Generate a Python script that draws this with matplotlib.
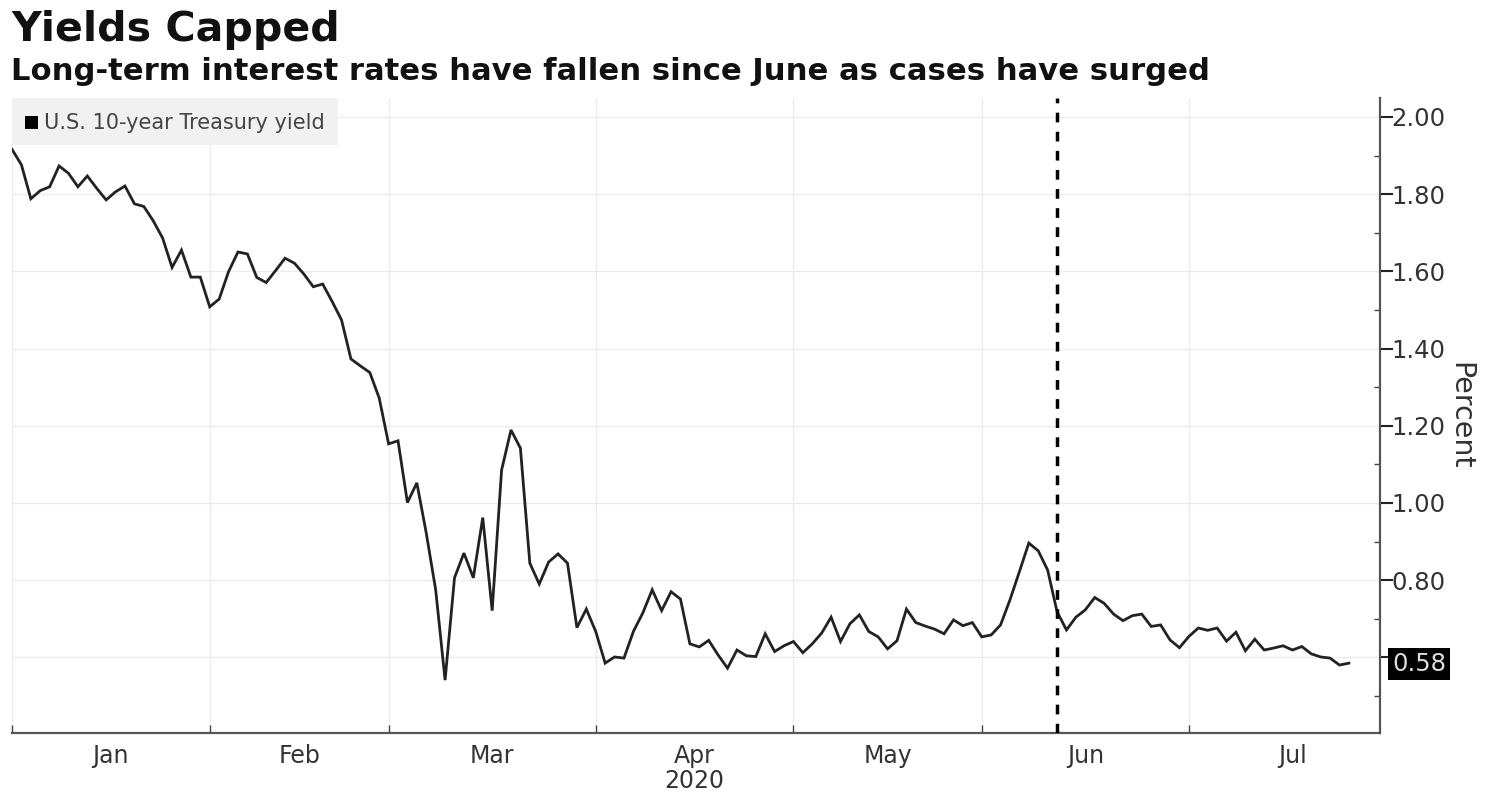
import matplotlib
matplotlib.use('Agg')
import matplotlib.pyplot as plt
from matplotlib.patches import Rectangle

# U.S. 10-year yield, one value per trading day
yields = [
    1.916, 1.876, 1.788, 1.809, 1.819, 1.873, 1.854, 1.819, 1.847, 1.815,
    1.785, 1.806, 1.821, 1.775, 1.768, 1.731, 1.686, 1.610, 1.655, 1.585,
    1.585, 1.508, 1.528, 1.599, 1.650, 1.645, 1.584, 1.571, 1.602, 1.634,
    1.621, 1.593, 1.560, 1.567, 1.522, 1.474, 1.373, 1.355, 1.338, 1.272,
    1.153, 1.161, 1.001, 1.052, 0.922, 0.775, 0.541, 0.806, 0.870, 0.806,
    0.962, 0.721, 1.085, 1.189, 1.142, 0.844, 0.790, 0.847, 0.868, 0.844,
    0.677, 0.725, 0.667, 0.585, 0.601, 0.598, 0.667, 0.715, 0.775, 0.721,
    0.770, 0.751, 0.635, 0.627, 0.644, 0.606, 0.572, 0.619, 0.604, 0.602,
    0.661, 0.615, 0.630, 0.641, 0.612, 0.635, 0.663, 0.704, 0.641, 0.687,
    0.710, 0.667, 0.653, 0.622, 0.643, 0.725, 0.690, 0.681, 0.673, 0.661,
    0.697, 0.682, 0.690, 0.653, 0.658, 0.684, 0.749, 0.822, 0.896, 0.876,
    0.826, 0.718, 0.671, 0.704, 0.723, 0.755, 0.740, 0.712, 0.695, 0.708,
    0.712, 0.680, 0.684, 0.645, 0.625, 0.654, 0.676, 0.670, 0.676, 0.642,
    0.665, 0.617, 0.647, 0.619, 0.624, 0.630, 0.619, 0.628, 0.609, 0.601,
    0.598, 0.580, 0.585,
]
month_names = ['Jan', 'Feb', 'Mar', 'Apr', 'May', 'Jun', 'Jul']
month_starts = [0, 21, 40, 62, 83, 103, 125]
month_ends = [21, 40, 62, 83, 103, 125, 147]
y_ticks = [0.60, 0.80, 1.00, 1.20, 1.40, 1.60, 1.80, 2.00]
y_minor = [0.50, 0.70, 0.90, 1.10, 1.30, 1.50, 1.70, 1.90]
june_marker = 111
last_value = 0.58

W, H = 1490, 802
plt.rcParams['font.family'] = 'DejaVu Sans'
fig = plt.figure(figsize=(W / 100, H / 100), dpi=100)
ax = fig.add_axes([12 / W, 1 - 733 / H, 1368 / W, 635 / H])

# Grid
ax.set_axisbelow(True)
ax.grid(True, axis='both', color='#ececec', lw=1.0)

# Line and dashed marker
days = list(range(len(yields)))
ax.plot(days, yields, color='#222222', lw=2.0, solid_joinstyle='miter', zorder=3)
ax.axvline(june_marker, color='black', lw=2.5, dashes=(2.8, 2.7), zorder=4)

ax.set_xlim(0, 145.3)
ax.set_ylim(0.404, 2.049)

# Axes
ax.yaxis.tick_right()
ax.yaxis.set_label_position('right')
ax.set_yticks(y_ticks)
# the last value tag sits on top of the 0.60 label, so it stays blank
ax.set_yticklabels(['' if v == 0.60 else '%.2f' % v for v in y_ticks])
ax.set_yticks(y_minor, minor=True)
ax.tick_params(axis='y', which='major', labelsize=17.5, length=9, width=1.5,
               direction='out', pad=-1, labelcolor='#333333', color='#222222')
ax.tick_params(axis='y', which='minor', length=4, width=1, direction='in', color='#444444')
ax.set_ylabel('Percent', fontsize=20.5, color='#333333', rotation=270, labelpad=21)

ax.set_xticks(month_starts)
ax.set_xticklabels([])
ax.set_xticks([(a + b) / 2 for a, b in zip(month_starts, month_ends)], minor=True)
ax.set_xticklabels(month_names, minor=True)
ax.tick_params(axis='x', which='major', length=6, width=1, direction='in', color='#444444')
ax.tick_params(axis='x', which='minor', length=0, labelsize=17, pad=8, labelcolor='#333333')

ax.spines['top'].set_visible(False)
ax.spines['left'].set_visible(False)
for side in ['bottom', 'right']:
    ax.spines[side].set_color('#555555')
    ax.spines[side].set_linewidth(1.6)


def fx(px):
    return px / W


def fy(py):
    return 1 - py / H


# Year under the month labels
fig.text(fx(694), fy(781), '2020', fontsize=17, color='#333333', ha='center', va='center')

# Titles
fig.text(fx(11), fy(30), 'Yields Capped', fontsize=29.6, fontweight='bold', color='#111111', va='center')
fig.text(fx(11), fy(71), 'Long-term interest rates have fallen since June as cases have surged',
         fontsize=22.1, fontweight='bold', color='#111111', va='center')

# Legend box
fig.add_artist(Rectangle((fx(12), fy(145)), 326 / W, 47 / H, transform=fig.transFigure,
                         facecolor='#f1f1f1', edgecolor='none', zorder=5))
fig.add_artist(Rectangle((fx(25), fy(129)), 13 / W, 13 / H, transform=fig.transFigure,
                         facecolor='black', edgecolor='none', zorder=6))
fig.text(fx(44), fy(123), 'U.S. 10-year Treasury yield', fontsize=15, color='#444444',
         va='center', zorder=6)

# Last value tag
fig.text(fx(1419), fy(664), '%.2f' % last_value, fontsize=17.5, color='#dddddd', ha='center', va='center',
         zorder=7, bbox=dict(boxstyle='square,pad=0.15', facecolor='black', edgecolor='none'))

fig.savefig('out.png', dpi=100)
